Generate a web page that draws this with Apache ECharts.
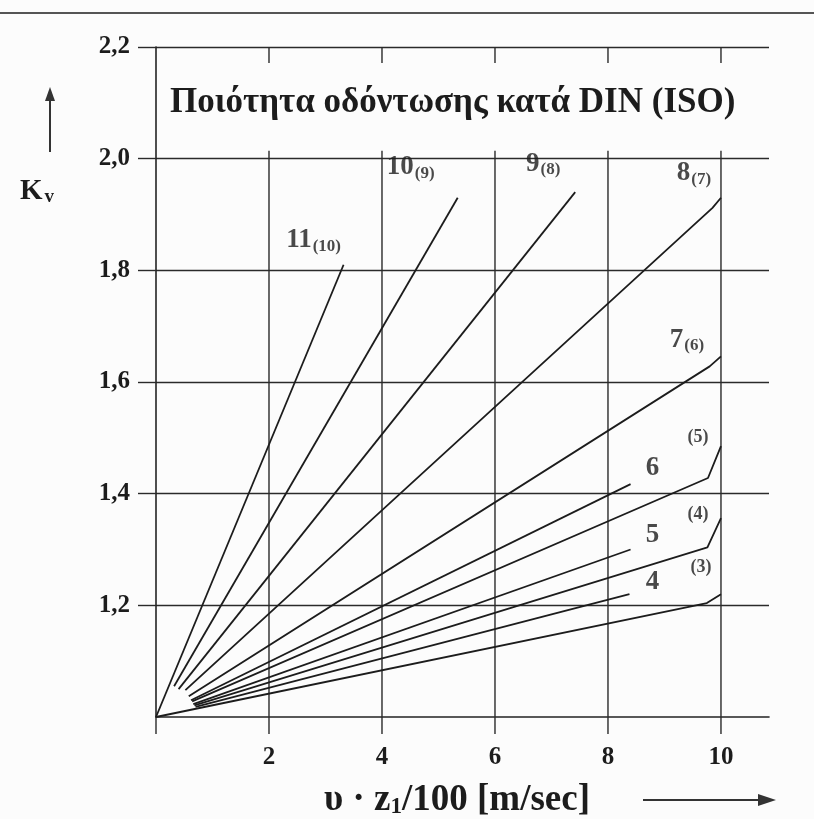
<!DOCTYPE html>
<html>
<head>
<meta charset="utf-8">
<script src="https://cdn.jsdelivr.net/npm/echarts@6/dist/echarts.min.js"></script>
<style>
  html, body { margin: 0; padding: 0; background: #fcfcfc; }
  #chart { width: 814px; height: 819px; }
</style>
</head>
<body>
<div id="chart"></div>
<script>
// Gear tooth quality grade per DIN, with the ISO grade in brackets
const gradeDin = ['11', '10', '9', '8', '7', '6', '', '5', '', '4', ''];
const gradeIso = ['(10)', '(9)', '(8)', '(7)', '(6)', '', '(5)', '', '(4)', '', '(3)'];

// Pitch-line speed factor v·z1/100 [m/s] along each curve
const speedValues = [
  [0, 3.32],
  [0.32, 5.34],
  [0.40, 7.42],
  [0.52, 9.85, 10.0],
  [0.58, 9.8, 10.0],
  [0.62, 8.4],
  [0.64, 9.77, 10.0],
  [0.66, 8.4],
  [0.68, 9.76, 10.0],
  [0.70, 8.38],
  [0, 9.75, 10.0]
];

// Dynamic factor Kv at the same points
const kvValues = [
  [1.0, 1.81],
  [1.055, 1.93],
  [1.05, 1.94],
  [1.048, 1.912, 1.93],
  [1.037, 1.628, 1.646],
  [1.03, 1.417],
  [1.028, 1.428, 1.485],
  [1.023, 1.3],
  [1.021, 1.304, 1.356],
  [1.018, 1.22],
  [1.0, 1.204, 1.22]
];

// Axis ticks
const speedTicks = [0, 2, 4, 6, 8, 10];
const kvTicks = [1.2, 1.4, 1.6, 1.8, 2.0, 2.2];

const SERIF = '"Liberation Serif", "DejaVu Serif", serif';
const INK = '#1c1c1c';

// where each grade label sits relative to the end of its curve (px)
const labelOffsets = [
  [-30, -24], [-47, -30], [-32, -28], [-27, -24], [-34, -16],
  [22, -16], [-23, -9], [22, -14], [-23, -4], [23, -12], [-20, -27]
];

function gradeText(i) {
  const d = gradeDin[i], s = gradeIso[i];
  if (d && s) return '{d|' + d + '}{s|' + s + '}';
  if (d) return '{n|' + d + '}';
  return '{p|' + s + '}';
}

const curveSeries = speedValues.map((xs, i) => ({
  type: 'line',
  name: gradeDin[i] + gradeIso[i],
  data: xs.map((x, j) => [x, kvValues[i][j]]),
  showSymbol: false,
  symbol: 'none',
  silent: true,
  animation: false,
  lineStyle: { color: INK, width: 1.8 },
  z: 3
}));

const labelSeries = {
  type: 'scatter',
  silent: true,
  animation: false,
  symbolSize: 1,
  itemStyle: { color: 'transparent' },
  data: speedValues.map((xs, i) => {
    const last = xs.length - 1;
    return {
      value: [xs[last], kvValues[i][last]],
      label: {
        show: true,
        position: 'inside',
        offset: labelOffsets[i],
        formatter: gradeText(i),
        rich: {
          d: { fontFamily: SERIF, fontWeight: 'bold', fontSize: 27, color: INK, lineHeight: 28, verticalAlign: 'top' },
          s: { fontFamily: SERIF, fontWeight: 'bold', fontSize: 17, color: INK, lineHeight: 18, verticalAlign: 'bottom', padding: [16, 0, 0, 1] },
          n: { fontFamily: SERIF, fontWeight: 'bold', fontSize: 27, color: INK, lineHeight: 28 },
          p: { fontFamily: SERIF, fontWeight: 'bold', fontSize: 18, color: INK, lineHeight: 20 }
        }
      }
    };
  }),
  z: 4
};

// vertical grid lines: they run from just below the speed axis up to the 2,0 level,
// with short ticks hanging from the 2,2 line
const gridSeries = {
  type: 'custom',
  silent: true,
  animation: false,
  clip: false,
  data: speedTicks.map(v => [v]),
  renderItem: function (params, api) {
    const x = api.value(0);
    const base = api.coord([x, 1.0]);
    const upper = api.coord([x, 2.0]);
    const top = api.coord([x, 2.2]);
    const style = { stroke: '#2a2a2a', lineWidth: 1.4 };
    const children = [{
      type: 'line',
      shape: { x1: base[0], y1: base[1], x2: base[0], y2: base[1] + 17 },
      style: style
    }];
    if (x > 0) {
      children.push({
        type: 'line',
        shape: { x1: base[0], y1: base[1], x2: upper[0], y2: upper[1] - 8 },
        style: style
      });
      children.push({
        type: 'line',
        shape: { x1: top[0], y1: top[1], x2: top[0], y2: top[1] + 16 },
        style: style
      });
    }
    return { type: 'group', children: children };
  },
  z: 1
};

const chart = echarts.init(document.getElementById('chart'), null, { renderer: 'canvas' });

chart.setOption({
  backgroundColor: '#fcfcfc',
  animation: false,
  grid: {
    left: 156, top: 47, right: 45, bottom: 102,
    containLabel: false,
    outerBoundsMode: 'none'
  },
  xAxis: {
    type: 'value',
    min: 0,
    max: 10.85,
    interval: 2,
    axisLine: { show: true, lineStyle: { color: '#222', width: 1.6 } },
    axisTick: { show: false },
    splitLine: { show: false },
    axisLabel: {
      margin: 28,
      showMinLabel: false,
      showMaxLabel: false,
      fontFamily: SERIF,
      fontWeight: 'bold',
      fontSize: 25,
      color: INK,
      formatter: v => (speedTicks.indexOf(v) > 0 ? String(v) : '')
    }
  },
  yAxis: {
    type: 'value',
    min: 1.0,
    max: 2.2,
    interval: 0.2,
    axisLine: { show: true, lineStyle: { color: '#222', width: 1.6 } },
    axisTick: { show: true, inside: false, length: 18, lineStyle: { color: '#2a2a2a', width: 1.4 } },
    splitLine: { show: true, showMinLine: false, showMaxLine: true, lineStyle: { color: '#2a2a2a', width: 1.4, type: 'solid' } },
    axisLabel: {
      margin: 26,
      showMinLabel: false,
      fontFamily: SERIF,
      fontWeight: 'bold',
      fontSize: 25,
      color: INK,
      formatter: v => {
        const hit = kvTicks.find(t => Math.abs(t - v) < 1e-6);
        return hit === undefined ? '' : hit.toFixed(1).replace('.', ',');
      }
    }
  },
  graphic: [
    // top edge rule of the page
    { type: 'line', shape: { x1: 0, y1: 13, x2: 814, y2: 13 }, style: { stroke: '#555', lineWidth: 2 }, silent: true },
    // heading inside the plot
    {
      type: 'text', left: 170, top: 85, silent: true,
      style: { text: 'Ποιότητα οδόντωσης κατά DIN (ISO)', font: 'bold 35px ' + SERIF, fill: INK }
    },
    // Kv axis name with arrow
    { type: 'line', shape: { x1: 50, y1: 152, x2: 50, y2: 96 }, style: { stroke: '#333', lineWidth: 2 }, silent: true },
    { type: 'polygon', shape: { points: [[50, 87], [45, 101], [55, 101]] }, style: { fill: '#333' }, silent: true },
    {
      type: 'text', left: 20, top: 172, silent: true,
      style: {
        text: '{k|K}{v|v}',
        rich: {
          k: { fontFamily: SERIF, fontWeight: 'bold', fontSize: 29, fill: INK, lineHeight: 30, verticalAlign: 'top' },
          v: { fontFamily: SERIF, fontWeight: 'bold', fontSize: 19, fill: INK, lineHeight: 18, verticalAlign: 'bottom', padding: [16, 0, 0, 2] }
        }
      }
    },
    // speed axis name with arrow
    {
      type: 'text', left: 324, top: 778, silent: true,
      style: {
        text: '{a|υ · z}{b|1}{a|/100 [m/sec]}',
        rich: {
          a: { fontFamily: SERIF, fontWeight: 'bold', fontSize: 37, fill: INK, lineHeight: 37, verticalAlign: 'top' },
          b: { fontFamily: SERIF, fontWeight: 'bold', fontSize: 23, fill: INK, lineHeight: 22, verticalAlign: 'bottom', padding: [18, 0, 0, 0] }
        }
      }
    },
    { type: 'line', shape: { x1: 643, y1: 800, x2: 762, y2: 800 }, style: { stroke: '#333', lineWidth: 2 }, silent: true },
    { type: 'polygon', shape: { points: [[776, 800], [758, 794], [758, 806]] }, style: { fill: '#333' }, silent: true }
  ],
  series: [gridSeries].concat(curveSeries, [labelSeries])
});
</script>
</body>
</html>
